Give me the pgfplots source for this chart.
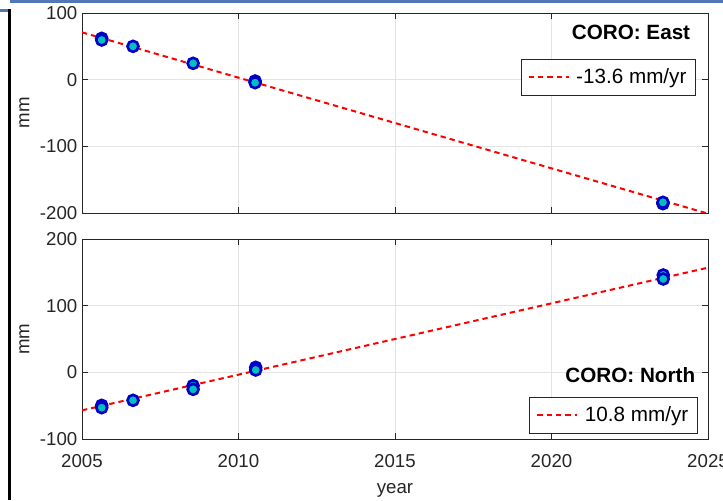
\documentclass[border=0pt]{standalone}
\usepackage{fontspec}
\setmainfont{Liberation Sans}
\usepackage{pgfplots}
\pgfplotsset{compat=1.18}
\definecolor{axgray}{HTML}{262626}
\definecolor{gridgray}{HTML}{E3E3E3}
\definecolor{mkface}{HTML}{00BFBF}
\definecolor{mkedge}{HTML}{0000C8}
\definecolor{winblue}{RGB}{80,120,180}

\pgfplotsset{
  coro/.style={
    scale only axis, width=469.5pt, height=150pt,
    xmin=2005, xmax=2025, xtick={2005,2010,...,2025},
    axis line style={axgray, line width=0.6pt},
    tick style={axgray, line width=0.6pt},
    major tick length=4.5pt,
    tick align=inside,
    grid=major, grid style={gridgray, line width=0.5pt},
    tick label style={font=\fontsize{14}{16}\selectfont, color=axgray},
    every axis y label/.style={at={(axis description cs:-0.092,0.5)}, rotate=90,
      anchor=center, font=\fontsize{14}{16}\selectfont, color=axgray},
    legend cell align=left,
    legend style={draw=axgray, line width=0.5pt, font=\fontsize{15.5}{17}\selectfont,
      inner xsep=5pt, inner ysep=5pt,
      /tikz/every odd column/.append style={column sep=3pt}},
    legend image code/.code={\draw[#1] (0cm,0cm) -- (1.05cm,0cm);},
  },
  fit/.style={red, line width=1.5pt, dash pattern=on 4pt off 3pt},
  pts/.style={only marks, mark=*, mark size=4.1pt,
    mark options={fill=mkface, draw=mkedge, line width=2pt}},
}

\begin{document}
\begin{tikzpicture}
\useasboundingbox (0,0) rectangle (542.25pt,375pt);

% top panel: East
\begin{axis}[coro, at={(61.5pt,215.25pt)}, anchor=south west,
  ymin=-200, ymax=100, ytick={-200,-100,0,100},
  yticklabels={-200,-100,0,100},
  xticklabels={},
  ylabel={mm},
  legend style={at={(rel axis cs:0.981,0.77)}, anchor=north east},
]
\addplot[fit] coordinates {(2005,71) (2025,-201)};
\addlegendentry{-13.6 mm/yr}
\addplot[pts, forget plot] coordinates {
  (2005.63,62) (2005.63,59.5) (2006.63,50) (2008.55,24.5)
  (2010.53,-2) (2010.53,-4.5) (2023.56,-186) (2023.56,-184)};
\node[anchor=base east, font=\bfseries\fontsize{15.5}{17}\selectfont]
  at (rel axis cs:0.979,0.865) {CORO: East};
\end{axis}

% bottom panel: North
\begin{axis}[coro, at={(61.5pt,45.75pt)}, anchor=south west,
  ymin=-100, ymax=200, ytick={-100,0,100,200},
  yticklabels={-100,0,100,200},
  xticklabels={2005,2010,2015,2020,2025},
  xticklabel style={anchor=base, yshift=-21pt},
  every axis x label/.style={at={(axis description cs:0.5,0)}, anchor=base,
    yshift=-40.5pt, font=\fontsize{14}{16}\selectfont, color=axgray},
  xlabel={year}, ylabel={mm},
  legend style={at={(rel axis cs:0.984,0.21)}, anchor=north east},
]
\addplot[fit] coordinates {(2005,-57) (2025,157)};
\addlegendentry{10.8 mm/yr}
\addplot[pts, forget plot] coordinates {
  (2005.63,-49.5) (2005.63,-53) (2006.63,-42) (2008.55,-20) (2008.55,-25.5)
  (2010.55,7.5) (2010.55,3.5) (2023.57,146) (2023.57,140)};
\node[anchor=base east, font=\bfseries\fontsize{15.5}{17}\selectfont]
  at (rel axis cs:0.987,0.285) {CORO: North};
\end{axis}

% window frame seen in the screenshot
\draw[winblue, line width=2.25pt] (7.5pt,373.9pt) -- (542.25pt,373.9pt);
\draw[winblue, line width=2.25pt] (0pt,367pt) -- (7pt,367pt);
\draw[black, line width=1.9pt] (7.1pt,0pt) -- (7.1pt,368pt);
\end{tikzpicture}
\end{document}
